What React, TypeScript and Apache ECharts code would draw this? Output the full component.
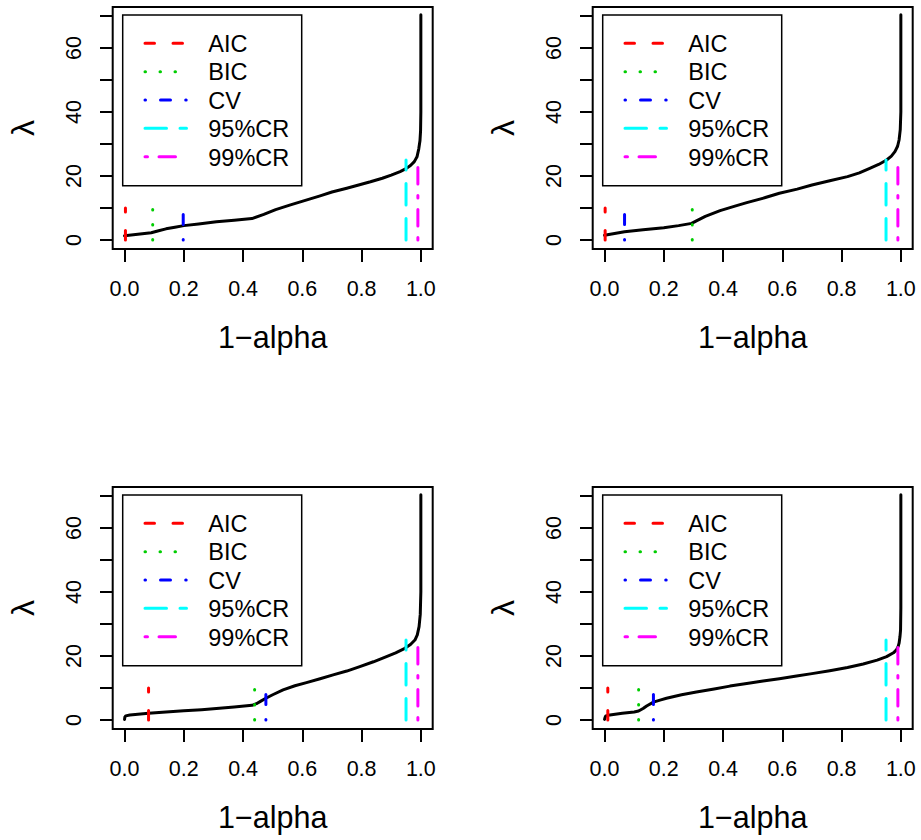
import React, { useEffect, useRef } from "react";
import * as echarts from "echarts";

// ---- axis ticks ----
const xTicks = [0, 0.2, 0.4, 0.6, 0.8, 1.0];
const yTicks = [0, 10, 20, 30, 40, 50, 60, 70];
const yTickLabels = [0, 20, 40, 60];

// ---- methods (legend) ----
const methods = ["AIC", "BIC", "CV", "95%CR", "99%CR"];
const methodHeights = [10, 10, 10, 25, 25];

// ---- selected 1-alpha for each method (AIC, BIC, CV, 95%CR, 99%CR), per panel ----
const panel1Selected = [0.003, 0.095, 0.198, 0.95, 0.99];
const panel2Selected = [0.002, 0.296, 0.0675, 0.95, 0.99];
const panel3Selected = [0.081, 0.439, 0.477, 0.95, 0.99];
const panel4Selected = [0.011, 0.115, 0.165, 0.95, 0.99];

// ---- lambda paths ----
const panel1Alpha = [0, 0.045, 0.09, 0.115, 0.14, 0.17, 0.2, 0.25, 0.31, 0.37, 0.43, 0.47, 0.51, 0.56, 0.61, 0.66, 0.7, 0.75, 0.79, 0.83, 0.87, 0.9, 0.93, 0.95, 0.965, 0.978, 0.987, 0.993, 0.997, 0.999, 1.0, 1.0];
const panel1Lambda = [1.35, 1.8, 2.3, 2.9, 3.5, 4.0, 4.5, 5.0, 5.7, 6.2, 6.7, 8.0, 9.5, 11.0, 12.4, 13.8, 15.0, 16.2, 17.2, 18.2, 19.3, 20.3, 21.4, 22.3, 23.3, 24.5, 26.0, 28.5, 31.0, 34.0, 40.0, 70.4];

const panel2Alpha = [0, 0.0675, 0.13, 0.2, 0.25, 0.294, 0.31, 0.34, 0.39, 0.44, 0.48, 0.54, 0.59, 0.65, 0.7, 0.76, 0.82, 0.86, 0.895, 0.925, 0.952, 0.968, 0.98, 0.989, 0.994, 0.998, 1.0, 1.0];
const panel2Lambda = [1.5, 2.6, 3.2, 3.85, 4.5, 5.2, 6.0, 7.4, 9.2, 10.6, 11.7, 13.2, 14.6, 15.9, 17.2, 18.5, 19.8, 21.0, 22.4, 23.6, 25.0, 26.2, 27.6, 29.3, 31.25, 34.5, 40.0, 70.4];

const panel3Alpha = [0, 0.001, 0.004, 0.018, 0.081, 0.14, 0.2, 0.26, 0.31, 0.37, 0.43, 0.445, 0.46, 0.477, 0.5, 0.535, 0.575, 0.614, 0.66, 0.704, 0.75, 0.794, 0.84, 0.884, 0.915, 0.946, 0.965, 0.98, 0.988, 0.994, 0.998, 1.0, 1.0];
const panel3Lambda = [0.2, 0.9, 1.3, 1.6, 2.1, 2.5, 2.9, 3.25, 3.6, 4.1, 4.6, 5.1, 5.9, 6.8, 7.9, 9.4, 10.7, 11.7, 12.9, 14.1, 15.3, 16.7, 18.2, 19.8, 21.0, 22.4, 23.6, 25.0, 26.6, 29.2, 33.0, 40.0, 70.4];

const panel4Alpha = [0, 0.002, 0.0045, 0.018, 0.06, 0.1, 0.115, 0.13, 0.142, 0.165, 0.19, 0.209, 0.26, 0.31, 0.37, 0.423, 0.48, 0.535, 0.59, 0.648, 0.7, 0.76, 0.82, 0.873, 0.92, 0.952, 0.975, 0.985, 0.991, 0.994, 0.997, 0.999, 1.0, 1.0];
const panel4Lambda = [0.2, 0.9, 1.3, 1.6, 2.1, 2.5, 2.8, 3.6, 4.4, 5.6, 6.3, 6.8, 7.9, 8.75, 9.7, 10.6, 11.4, 12.2, 12.9, 13.75, 14.5, 15.4, 16.4, 17.5, 18.7, 19.8, 21.0, 21.9, 23.0, 24.0, 26.0, 28.1, 35.0, 70.4];

const panels = [
  { alpha: panel1Alpha, lambda: panel1Lambda, selected: panel1Selected },
  { alpha: panel2Alpha, lambda: panel2Lambda, selected: panel2Selected },
  { alpha: panel3Alpha, lambda: panel3Lambda, selected: panel3Selected },
  { alpha: panel4Alpha, lambda: panel4Lambda, selected: panel4Selected },
];

// ---- styles / layout ----
const FONT = "'Liberation Sans', Arial, Helvetica, sans-serif";
const methodColors = ["#FF0000", "#00CD00", "#0000FF", "#00FFFF", "#FF00FF"];
const methodDash = [
  [9.5, 18.5],
  [0.5, 14.5],
  [0.5, 15, 10, 15.2],
  [21.5, 13.5],
  [2.5, 11.5, 16.5, 11.5],
];
const gridPos = [
  { left: 112.7, top: 7 },
  { left: 592.7, top: 7 },
  { left: 112.7, top: 487 },
  { left: 592.7, top: 487 },
];
const GRID_W = 320;
const GRID_H = 242;
const LW = 3;

export default function App() {
  const ref = useRef<HTMLDivElement>(null);

  useEffect(() => {
    if (!ref.current) return;
    const chart = echarts.init(ref.current, undefined, { renderer: "svg" });

    const grid = gridPos.map((g) => ({
      left: g.left,
      top: g.top,
      width: GRID_W,
      height: GRID_H,
      show: true,
      borderColor: "#000",
      borderWidth: 2,
      backgroundColor: "transparent",
      containLabel: false,
      outerBoundsMode: "none",
    }));

    const xAxis = gridPos.map((_, i) => ({
      gridIndex: i,
      type: "value",
      min: -0.04,
      max: 1.04,
      axisLine: { show: false, onZero: false },
      splitLine: { show: false },
      axisTick: {
        show: true,
        customValues: xTicks,
        length: 13,
        lineStyle: { color: "#000", width: 2 },
      },
      axisLabel: {
        customValues: xTicks,
        formatter: (v: number) => v.toFixed(1),
        margin: 29,
        fontSize: 21.5,
        color: "#000",
        fontFamily: FONT,
      },
      name: "1\u2212alpha",
      nameLocation: "middle",
      nameGap: 72,
      nameTextStyle: { fontSize: 30.5, color: "#000", fontFamily: FONT },
    }));

    const yAxis = gridPos.map((_, i) => ({
      gridIndex: i,
      type: "value",
      min: -2.8,
      max: 72.8,
      axisLine: { show: false, onZero: false },
      splitLine: { show: false },
      axisTick: {
        show: true,
        customValues: yTicks,
        length: 12.7,
        lineStyle: { color: "#000", width: 2 },
      },
      axisLabel: {
        customValues: yTickLabels,
        rotate: 90,
        margin: 28,
        fontSize: 21.5,
        color: "#000",
        fontFamily: FONT,
      },
      name: "\u03BB",
      nameLocation: "middle",
      nameGap: 74,
      nameTextStyle: { fontSize: 32, color: "#000", fontFamily: FONT },
    }));

    const series: any[] = [];
    panels.forEach((p, i) => {
      series.push({
        type: "line",
        name: "path" + (i + 1),
        xAxisIndex: i,
        yAxisIndex: i,
        data: p.alpha.map((a, k) => [a, p.lambda[k]]),
        symbol: "none",
        silent: true,
        z: 2,
        lineStyle: { color: "#000", width: LW, cap: "round", join: "round" },
      });
      methods.forEach((m, j) => {
        series.push({
          type: "line",
          name: m,
          xAxisIndex: i,
          yAxisIndex: i,
          data: [
            [p.selected[j], 0],
            [p.selected[j], methodHeights[j]],
          ],
          symbol: "none",
          silent: true,
          z: 3,
          lineStyle: {
            color: methodColors[j],
            width: LW,
            type: methodDash[j],
            cap: "round",
          },
        });
      });
    });

    const graphic: any[] = [];
    gridPos.forEach((g) => {
      const dx = g.left - 112.7;
      const dy = g.top - 7;
      graphic.push({
        type: "rect",
        silent: true,
        shape: { x: 122.7 + dx, y: 15 + dy, width: 179, height: 170.7 },
        style: { fill: null, stroke: "#000", lineWidth: 1.5 },
        z: 10,
      });
      methods.forEach((m, j) => {
        const rowY = 43.3 + j * 28.35 + dy;
        graphic.push({
          type: "line",
          silent: true,
          shape: { x1: 145 + dx, y1: rowY, x2: 186.5 + dx, y2: rowY },
          style: {
            stroke: methodColors[j],
            lineWidth: LW,
            lineDash: methodDash[j],
            lineCap: "round",
          },
          z: 10,
        });
        graphic.push({
          type: "text",
          silent: true,
          x: 208.3 + dx,
          y: rowY + 0.8,
          style: {
            text: m,
            fill: "#000",
            fontSize: 23.5,
            fontFamily: FONT,
            align: "left",
            verticalAlign: "middle",
          },
          z: 10,
        });
      });
    });

    chart.setOption({
      animation: false,
      backgroundColor: "#fff",
      grid,
      xAxis,
      yAxis,
      series,
      graphic,
    } as any);

    return () => chart.dispose();
  }, []);

  return (
    <div
      ref={ref}
      style={{ position: "fixed", left: 0, top: 0, width: 921, height: 840 }}
    />
  );
}
